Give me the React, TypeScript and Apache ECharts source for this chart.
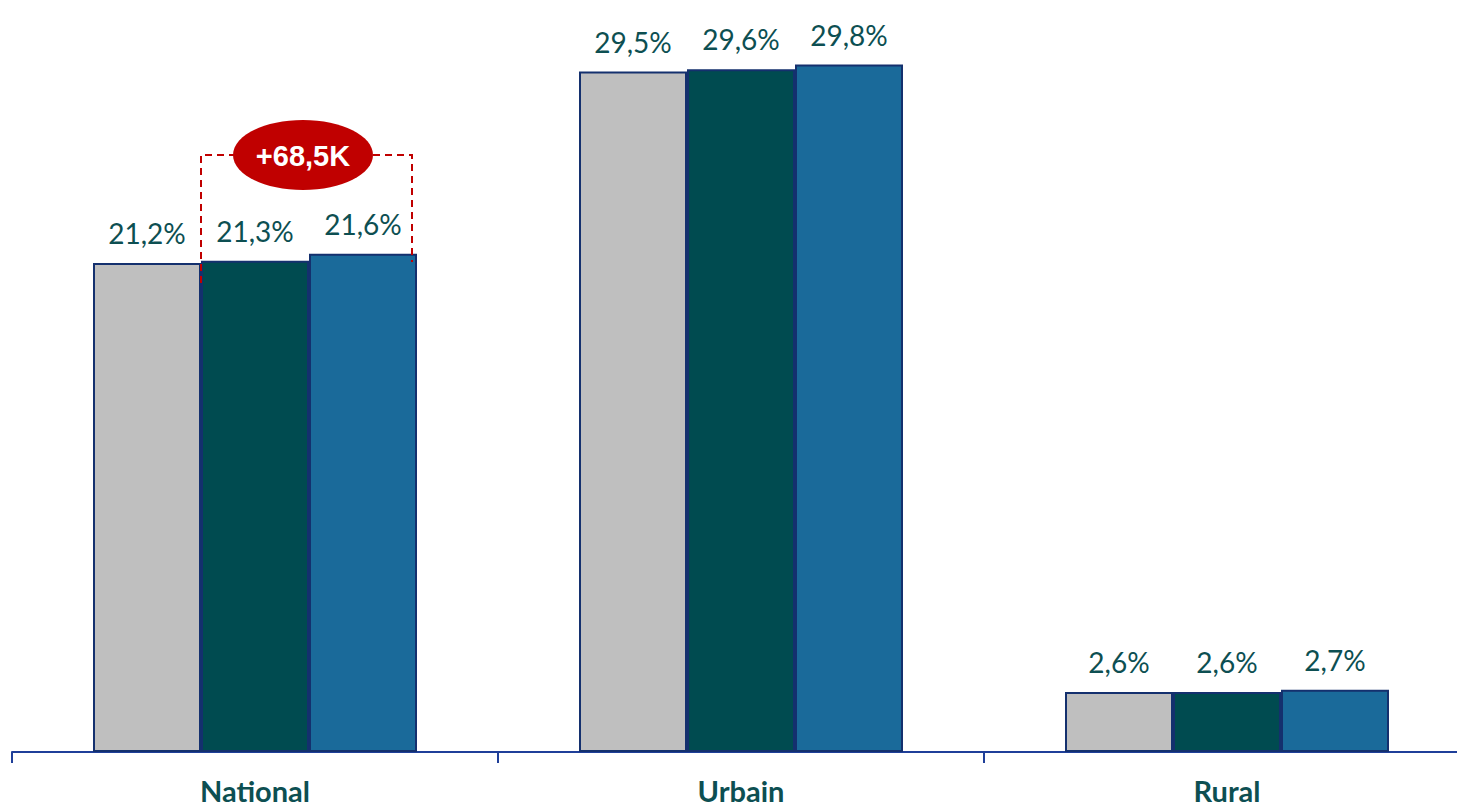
import React, { useEffect, useRef } from "react";
import * as echarts from "echarts";

const categories = ["National", "Urbain", "Rural"];
const series1 = [21.2, 29.5, 2.6];
const series2 = [21.3, 29.6, 2.6];
const series3 = [21.6, 29.8, 2.7];
const seriesNames = ["Période 1", "Période 2", "Période 3"];
const seriesColors = ["#bfbfbf", "#004b50", "#1a6a9a"];
const annotationText = "+68,5K";

const fmt = (v: number) => v.toFixed(1).replace(".", ",") + "%";

export default function App() {
  const ref = useRef<HTMLDivElement>(null);
  useEffect(() => {
    if (!ref.current) return;
    const chart = echarts.init(ref.current, undefined, { renderer: "svg" });
    const data = [series1, series2, series3];
    chart.setOption({
      animation: false,
      grid: { left: 12, top: 0, bottom: 57, right: 0 },
      xAxis: {
        type: "category",
        data: categories,
        axisLine: { lineStyle: { color: "#1f3f99", width: 2 } },
        axisTick: { show: true, length: 11, lineStyle: { color: "#1f3f99", width: 2 } },
        axisLabel: {
          color: "#0d4f52",
          fontFamily: "Lato",
          fontWeight: "bold",
          fontSize: 29,
          margin: 24,
        },
      },
      yAxis: { type: "value", min: 0, max: 32.6, show: false, splitLine: { show: false } },
      series: data.map((d, i) => ({
        type: "bar",
        name: seriesNames[i],
        data: d,
        barWidth: 108,
        barGap: "0%",
        itemStyle: { color: seriesColors[i], borderColor: "#14306e", borderWidth: 2 },
        label: {
          show: true,
          position: "top",
          distance: 16,
          color: "#0d4f52",
          fontFamily: "Lato",
          fontSize: 28,
          formatter: (p: any) => fmt(p.value),
        },
      })),
      graphic: [
        {
          type: "polyline",
          shape: { points: [[201, 283], [201, 155], [412, 155], [412, 262]] },
          style: { stroke: "#c00000", lineWidth: 2, lineDash: [7, 5], fill: null },
          z: 10,
        },
        {
          type: "ellipse",
          shape: { cx: 303, cy: 155, rx: 70, ry: 35 },
          style: { fill: "#c00000" },
          z: 11,
        },
        {
          type: "text",
          x: 303,
          y: 156,
          style: {
            text: annotationText,
            fill: "#ffffff",
            font: "bold 29px 'Liberation Sans', Arial, sans-serif",
            align: "center",
            verticalAlign: "middle",
          },
          z: 12,
        },
      ],
    });
    return () => chart.dispose();
  }, []);
  return (
    <div style={{ position: "absolute", left: 0, top: 0, width: 1457, height: 809, overflow: "hidden" }}>
      <div ref={ref} style={{ position: "absolute", left: 0, top: 0, width: 1470, height: 809 }} />
    </div>
  );
}
